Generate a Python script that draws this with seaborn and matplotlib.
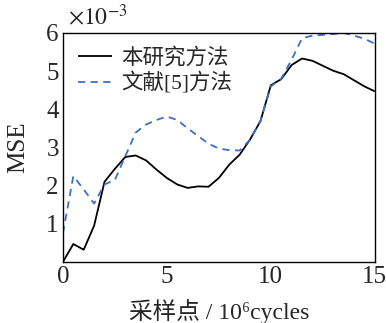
import seaborn as sns
import matplotlib.pyplot as plt
import pandas as pd

# sample points (10^6 cycles)
x_vals = [0, 0.5, 1.0, 1.5, 2.0, 2.5, 3.0, 3.5, 4.0, 4.5, 5.0, 5.5, 6.0, 6.5, 7.0, 7.5,
          8.0, 8.5, 9.0, 9.5, 10.0, 10.5, 11.0, 11.5, 12.0, 12.5, 13.0, 13.5, 14.0, 14.5, 15.0]
# MSE (x10^-3)
mse_ours = [0.0, 0.47, 0.32, 0.95, 2.1, 2.44, 2.75, 2.79, 2.66, 2.42, 2.2, 2.03, 1.94, 1.98, 1.97, 2.2,
            2.55, 2.81, 3.21, 3.69, 4.63, 4.79, 5.16, 5.33, 5.27, 5.14, 5.01, 4.92, 4.76, 4.6, 4.47]
mse_ref5 = [0.75, 2.25, 1.9, 1.53, 2.03, 2.15, 2.77, 3.39, 3.6, 3.72, 3.81, 3.72, 3.5, 3.3, 3.1, 2.97,
            2.93, 2.92, 3.2, 3.7, 4.6, 4.8, 5.3, 5.86, 5.93, 5.95, 5.97, 6.0, 5.93, 5.85, 5.72]
labels = ['本研究方法', '文献[5]方法']

df = pd.DataFrame({'x': x_vals * 2,
                   'mse': mse_ours + mse_ref5,
                   'method': [labels[0]] * len(x_vals) + [labels[1]] * len(x_vals)})

sns.set_style('white')
fonts = ['Liberation Serif', 'Noto Sans CJK SC', 'DejaVu Serif']
plt.rcParams['font.family'] = fonts
plt.rcParams['mathtext.fontset'] = 'stix'

fig = plt.figure(figsize=(3.86, 3.23), dpi=100)
ax = fig.add_axes([0.163, 0.189, 0.808, 0.709])

sns.lineplot(data=df, x='x', y='mse', hue='method', style='method',
             palette=['black', '#3a6fc4'], dashes=[(1, 0), (4, 3)],
             linewidth=1.3, ax=ax)

ax.set_xlim(0, 15)
ax.set_ylim(0, 6)
ax.set_xticks([0, 5, 10, 15])
ax.set_yticks([1, 2, 3, 4, 5, 6])
ax.tick_params(direction='in', length=4, labelsize=18, width=0.8, pad=3)
for s in ax.spines.values():
    s.set_color('black')
    s.set_linewidth(1.0)

ax.set_xlabel('采样点 / 10⁶cycles', fontsize=17, labelpad=8)
ax.set_ylabel('MSE', fontsize=18, labelpad=12)
ax.text(0.015, 1.015, r'$\times10^{-3}$', transform=ax.transAxes, fontsize=17,
        ha='left', va='bottom')

leg = ax.legend(loc='upper left', frameon=False, fontsize=15.5, handlelength=1.6,
                handletextpad=0.4, borderaxespad=0.3, labelspacing=0.15)

fig.savefig('out.png', dpi=100)
